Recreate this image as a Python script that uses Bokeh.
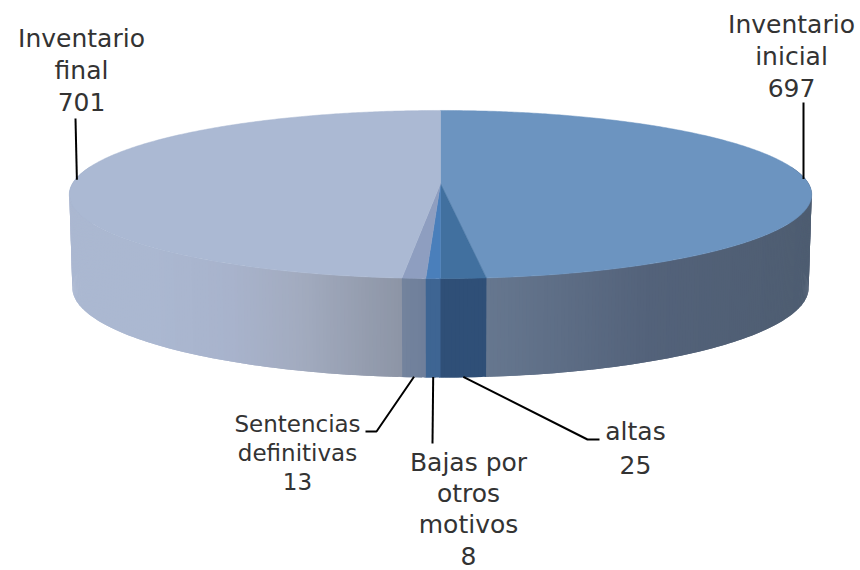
import numpy as np
from bokeh.plotting import figure
from bokeh.embed import file_html
from bokeh.resources import INLINE
from bokeh.core.properties import value

categories = ["Inventario inicial", "altas", "Bajas por otros motivos", "Sentencias definitivas", "Inventario final"]
values = [697, 25, 8, 13, 701]

top_colors = ["#6C94C0", "#41709F", "#4A7FBB", "#8E9EC0", "#ABB9D3"]
side_stops = [
    [(487, "#66778F"), (650, "#53627A"), (811, "#4E5D71")],
    [(440, "#2F4F77"), (487, "#2F4F77")],
    [(425, "#3E6593"), (440, "#3E6593")],
    [(401, "#73839D"), (425, "#6F7F9B")],
    [(67, "#ABB8D1"), (150, "#ABB8D1"), (230, "#A8B3CC"), (300, "#A2ABBF"), (400, "#8D95A6")],
]

label_lines = [
    ["Inventario", "inicial", "697"],
    ["altas", "25"],
    ["Bajas por", "otros", "motivos", "8"],
    ["Sentencias", "definitivas", "13"],
    ["Inventario", "final", "701"],
]
# label centre x, first-line y, line step, font size, elbow points of the leader
label_style = [
    (791, 24, 31.5, "25px", [(803, 102)]),
    (635, 431, 33, "25px", [(587, 439), (599, 439)]),
    (468, 462, 31, "25px", [(432, 443)]),
    (297, 423, 29, "23px", [(376, 431), (365, 431)]),
    (81, 38, 31.5, "25px", [(75, 118)]),
]

CX, K = 440.0, -0.131


def proj(theta_deg, b, a, y0):
    t = np.radians(theta_deg)
    u, v = np.sin(t), -np.cos(t)
    d = 1 + K * v
    return CX + b * u / d, y0 + a * v / d


def top(theta):
    return proj(theta, 368, 82.6, 183)


def bottom(theta):
    return proj(theta, 365, 88.5, 275.2)


def hex_rgb(c):
    return np.array([int(c[i:i + 2], 16) for i in (1, 3, 5)], float)


def grad(stops, x):
    xs = [s[0] for s in stops]
    rgb = [np.interp(x, xs, [hex_rgb(s[1])[i] for s in stops]) for i in range(3)]
    return "#%02X%02X%02X" % tuple(int(round(c)) for c in rgb)


total = sum(values)
edges = np.concatenate([[0], np.cumsum(values)]) * 360.0 / total

p = figure(width=860, height=570, x_range=(0, 860), y_range=(570, 0),
           output_backend="svg", toolbar_location=None, min_border=0,
           outline_line_color=None, background_fill_color="white")
p.axis.visible = False
p.grid.visible = False

sx, sy, sc = [], [], []
for i in range(len(values)):
    a, b = max(edges[i], 78), min(edges[i + 1], 282)
    if b <= a:
        continue
    n = max(2, int((b - a) / 0.5) + 1)
    th = np.linspace(a, b, n)
    step = th[1] - th[0]
    for t0 in th[:-1]:
        t1 = min(t0 + 2 * step, b + 0.2)      # overlap the next strip so no seam shows
        x0, y0 = top(t0)
        x1, y1 = top(t1)
        x2, y2 = bottom(t1)
        x3, y3 = bottom(t0)
        sx.append([x0, x1, x2, x3])
        sy.append([y0, y1, y2, y3])
        sc.append(grad(side_stops[i], x0 + (x1 - x0) / 4))
p.patches(sx, sy, fill_color=sc, line_color=None)

tx, ty = [], []
for i in range(len(values)):
    th = np.linspace(edges[i], edges[i + 1], max(3, int(edges[i + 1] - edges[i]) * 2))
    x, y = top(th)
    tx.append([CX] + list(x))
    ty.append([183.0] + list(y))
p.patches(tx, ty, fill_color=top_colors, line_color=top_colors, line_width=0.5)

for i, lines in enumerate(label_lines):
    lx, ly, step, size, elbow = label_style[i]
    mid = (edges[i] + edges[i + 1]) / 2
    if i in (0, 4):
        ax, ay = proj(mid, 368 * 0.995, 82.6, 183)
    else:
        ax, ay = bottom(mid)
        ay -= 0.5
    p.line([ax] + [e[0] for e in elbow], [ay] + [e[1] for e in elbow],
           line_color="#000000", line_width=2)
    p.text([lx] * len(lines), [ly + k * step for k in range(len(lines))], text=lines,
           text_font=value("DejaVu Sans"), text_font_size=value(size),
           text_color="#333333", text_align="center", text_baseline="middle")

open("out.html", "w").write(file_html(p, INLINE))
